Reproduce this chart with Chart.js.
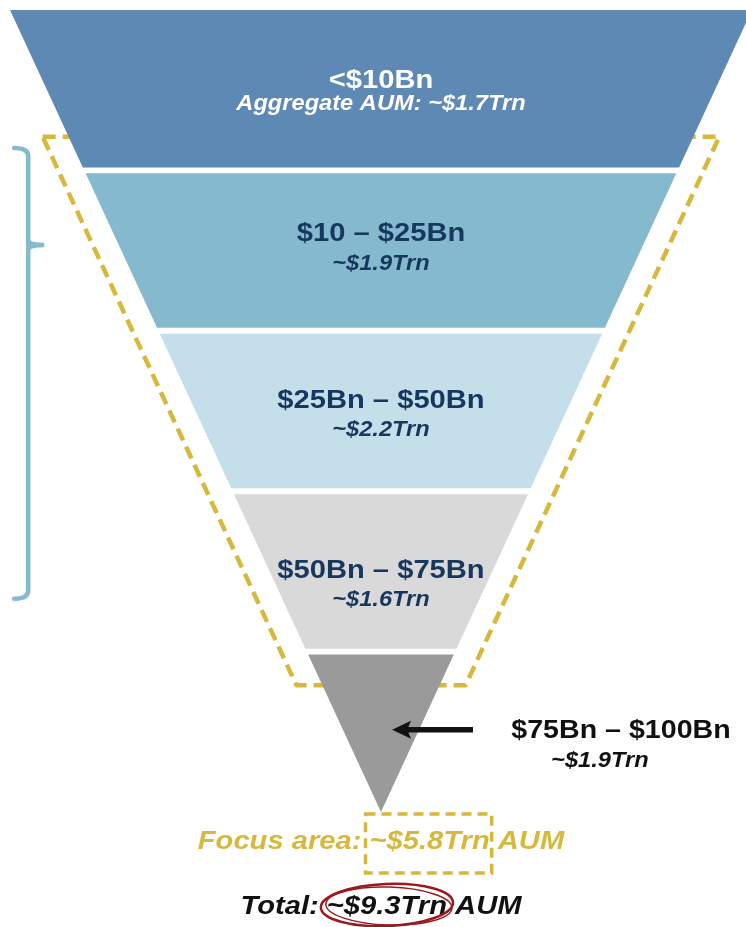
<!DOCTYPE html>
<html>
<head>
<meta charset="utf-8">
<script src="https://cdn.jsdelivr.net/npm/chart.js@4.4.1/dist/chart.umd.min.js"></script>
<style>
  html, body { margin: 0; padding: 0; background: #fff; }
  #wrap { position: relative; width: 746px; height: 927px; }
</style>
</head>
<body>
<div id="wrap"><canvas id="funnel"></canvas></div>
<script>
// AUM bands, top (smallest managers) to bottom
const bandLabels = ['<$10Bn', '$10 – $25Bn', '$25Bn – $50Bn', '$50Bn – $75Bn', '$75Bn – $100Bn'];
const bandAum = [1.7, 1.9, 2.2, 1.6, 1.9];   // $Trn
const bandColors = ['#5e89b4', '#85bace', '#c4dfea', '#d9d9d9', '#9a9a9a'];
const focusBands = [1, 3];                   // first / last band in the focus box
const focusAum = 5.8;
const totalAum = 9.3;

const NAVY = '#17375e';
const GOLD = '#d6b93c';
const FONT = '"Liberation Sans", Arial, sans-serif';
const STRETCH = 1.1;

const n = bandLabels.length;
const gap = 0.037;
const halfWidth = (lvl) => 1 - lvl / n;   // funnel narrows to a point

// one closed trapezoid per band
const bandSets = bandLabels.map((label, i) => {
    const top = i + (i > 0 ? gap / 2 : 0);
    const bot = i + 1 - (i < n - 1 ? gap / 2 : 0);
    return {
        label: label,
        data: [
            {x: -halfWidth(top), y: top},
            {x: halfWidth(top), y: top},
            {x: halfWidth(bot), y: bot},
            {x: -halfWidth(bot), y: bot},
            {x: -halfWidth(top), y: top}
        ],
        showLine: true,
        fill: 'shape',
        backgroundColor: bandColors[i],
        borderColor: 'transparent',
        borderWidth: 0,
        pointRadius: 0,
        tension: 0
    };
});

// dashed outline round the focus bands
const fTop = focusBands[0] - 0.21;
const fBot = focusBands[1] + 1 + 0.21;
const fPad = 0.07;
const focusSet = {
    label: 'focus',
    data: [
        {x: -halfWidth(fTop) - fPad, y: fTop},
        {x: halfWidth(fTop) + fPad, y: fTop},
        {x: halfWidth(fBot) + fPad, y: fBot},
        {x: -halfWidth(fBot) - fPad, y: fBot},
        {x: -halfWidth(fTop) - fPad, y: fTop}
    ],
    showLine: true,
    fill: false,
    borderColor: GOLD,
    borderWidth: 4.5,
    borderDash: [13, 7],
    borderJoinStyle: 'round',
    pointRadius: 0,
    tension: 0
};

function stretchText(ctx, text, x, y, font, color, align) {
    ctx.save();
    ctx.font = font;
    ctx.fillStyle = color;
    ctx.textBaseline = 'alphabetic';
    ctx.textAlign = align || 'center';
    ctx.translate(x, y);
    ctx.scale(STRETCH, 1);
    ctx.fillText(text, 0, 0);
    ctx.restore();
}

function textWidth(ctx, text, font) {
    ctx.save();
    ctx.font = font;
    const w = ctx.measureText(text).width * STRETCH;
    ctx.restore();
    return w;
}

// per band: baseline shift from band centre, gap to second line
const labelShift = [-2, -10, -3, 7];
const subGap = [22, 29, 28, 28];

const annotations = {
    id: 'annotations',
    afterDatasetsDraw(chart) {
        const ctx = chart.ctx;
        const xs = chart.scales.x;
        const ys = chart.scales.y;
        const labelFont = 'bold 26.5px ' + FONT;
        const subFont = 'italic bold 21.5px ' + FONT;

        // labels inside the first four bands
        for (let i = 0; i < n - 1; i++) {
            const cx = xs.getPixelForValue(0);
            const cy = ys.getPixelForValue(i + 0.5) + labelShift[i];
            const col = i === 0 ? '#ffffff' : NAVY;
            const sub = (i === 0 ? 'Aggregate AUM: ' : '') + '~$' + bandAum[i].toFixed(1) + 'Trn';
            stretchText(ctx, bandLabels[i], cx, cy, labelFont, col);
            stretchText(ctx, sub, cx, cy + subGap[i], subFont, col);
        }

        // last band: arrow and outside label
        const ay = ys.getPixelForValue(n - 0.5) - 2;
        const tip = xs.getPixelForValue(0.03);
        const tail = xs.getPixelForValue(0.248);
        ctx.save();
        ctx.strokeStyle = '#111';
        ctx.fillStyle = '#111';
        ctx.lineWidth = 5.5;
        ctx.beginPath();
        ctx.moveTo(tail, ay);
        ctx.lineTo(tip + 14, ay);
        ctx.stroke();
        ctx.beginPath();
        ctx.moveTo(tip, ay);
        ctx.lineTo(tip + 19, ay - 9);
        ctx.lineTo(tip + 15, ay);
        ctx.lineTo(tip + 19, ay + 9);
        ctx.closePath();
        ctx.fill();
        ctx.restore();
        stretchText(ctx, bandLabels[n - 1], xs.getPixelForValue(0.647), ay + 8, 'bold 26px ' + FONT, '#111');
        stretchText(ctx, '~$' + bandAum[n - 1].toFixed(1) + 'Trn', xs.getPixelForValue(0.59), ay + 37, subFont, '#111');

        // brace on the left
        const bx = xs.getPixelForValue(-0.951);
        const bTop = ys.getPixelForValue(0.86);
        const bBot = ys.getPixelForValue(3.67);
        const bMid = ys.getPixelForValue(1.465);
        ctx.save();
        ctx.strokeStyle = '#85bace';
        ctx.lineWidth = 4.5;
        ctx.lineCap = 'round';
        ctx.beginPath();
        ctx.moveTo(bx - 14, bTop);
        ctx.quadraticCurveTo(bx, bTop, bx, bTop + 8);
        ctx.lineTo(bx, bBot - 8);
        ctx.quadraticCurveTo(bx, bBot, bx - 14, bBot);
        ctx.stroke();
        ctx.beginPath();
        ctx.moveTo(bx, bMid - 4);
        ctx.quadraticCurveTo(bx + 2, bMid, bx + 16, bMid);
        ctx.quadraticCurveTo(bx + 2, bMid, bx, bMid + 4);
        ctx.stroke();
        ctx.restore();

        // footer lines
        const cx = xs.getPixelForValue(0);
        const footFont = 'italic bold 26.5px ' + FONT;

        const fy = ys.getPixelForValue(5.23);
        const fA = 'Focus area: ';
        const fB = '~$' + focusAum.toFixed(1) + 'Trn';
        const fC = ' AUM';
        const fW = textWidth(ctx, fA + fB + fC, footFont);
        const fX = cx - fW / 2;
        const fBx = fX + textWidth(ctx, fA, footFont);
        const fBw = textWidth(ctx, fB, footFont);
        stretchText(ctx, fA + fB + fC, fX, fy, footFont, GOLD, 'left');
        ctx.save();
        ctx.strokeStyle = GOLD;
        ctx.lineWidth = 3.5;
        ctx.setLineDash([10, 6]);
        ctx.strokeRect(fBx - 4, fy - 35, fBw + 6, 59);
        ctx.restore();

        const ty = ys.getPixelForValue(5.636);
        const tA = 'Total: ';
        const tB = '~$' + totalAum.toFixed(1) + 'Trn';
        const tC = ' AUM';
        const tW = textWidth(ctx, tA + tB + tC, footFont);
        const tX = cx - tW / 2;
        const tBx = tX + textWidth(ctx, tA, footFont);
        const tBw = textWidth(ctx, tB, footFont);
        stretchText(ctx, tA + tB + tC, tX, ty, footFont, '#111', 'left');
        const ex = tBx + tBw / 2;
        const ey = ty - 9;
        ctx.save();
        ctx.strokeStyle = '#9a1a1f';
        ctx.lineWidth = 2.5;
        ctx.beginPath();
        ctx.ellipse(ex, ey, tBw / 2 + 6, 21, -0.04, 0, Math.PI * 2);
        ctx.stroke();
        ctx.lineWidth = 1.5;
        ctx.beginPath();
        ctx.ellipse(ex + 2, ey + 1, tBw / 2 + 3, 19, 0.03, 0, Math.PI * 2);
        ctx.stroke();
        ctx.restore();
    }
};

new Chart(document.getElementById('funnel'), {
    type: 'scatter',
    data: {datasets: [...bandSets, focusSet]},
    options: {
        responsive: true,
        maintainAspectRatio: false,
        animation: false,
        events: [],
        layout: {padding: 0},
        plugins: {legend: {display: false}, tooltip: {enabled: false}},
        scales: {
            x: {type: 'linear', display: false, min: -1.027, max: 0.984},
            y: {type: 'linear', display: false, reverse: true, min: -0.0623, max: 5.717}
        }
    },
    plugins: [annotations]
});
</script>
</body>
</html>
